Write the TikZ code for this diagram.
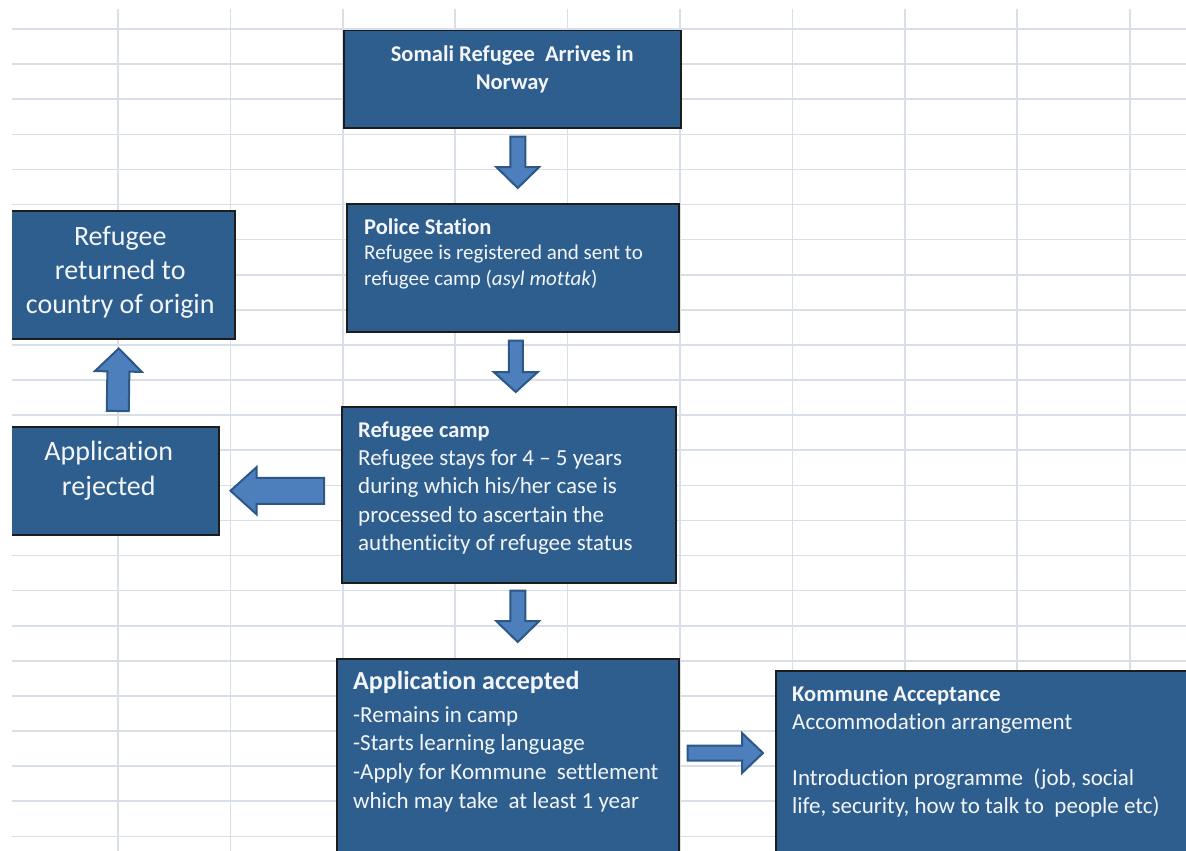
\documentclass[tikz,border=0pt]{standalone}
\usepackage{fontspec}
\setmainfont[Ligatures=NoCommon]{Carlito}
\usetikzlibrary{calc}
\definecolor{boxfill}{HTML}{2D5E8E}
\definecolor{boxborder}{HTML}{1C1C1C}
\definecolor{arrfill}{HTML}{4C7FBB}
\definecolor{arrborder}{HTML}{2C5786}
\definecolor{gridc}{HTML}{D8DFE9}
\definecolor{txtc}{HTML}{F3F5F8}
\newcommand\Lines[1]{\vtop{\halign{##\hfil\cr#1\crcr}}}
\newcommand\CLines[1]{\vtop{\halign{\hfil##\hfil\cr#1\crcr}}}
\newcommand\blockarrow[6]{%
  \coordinate (#1-s) at (#2);
  \coordinate (#1-e) at (#3);
  \coordinate (#1-c) at ($(#1-e)!#6!(#1-s)$);
  \draw[blockarr] ($(#1-s)!#4!90:(#1-e)$) -- ($(#1-c)!#4!-90:(#1-s)$) -- ($(#1-c)!#5!-90:(#1-s)$) -- (#1-e) -- ($(#1-c)!#5!90:(#1-s)$) -- ($(#1-c)!#4!90:(#1-s)$) -- ($(#1-s)!#4!-90:(#1-e)$) -- cycle;
}
\tikzset{
  box/.style={draw=boxborder, line width=1.5pt, fill=boxfill, anchor=north west, inner sep=0pt},
  txt/.style={text=txtc, inner sep=0pt},
  gridline/.style={draw=gridc, line width=1.6pt},
  blockarr/.style={draw=arrborder, fill=arrfill, line width=2pt, line join=miter},
}
\begin{document}
\begin{tikzpicture}[x=1pt,y=-1pt]
\useasboundingbox[fill=white] (0,0) rectangle (1186,851);
\begin{scope}
\clip (12,9) rectangle (1186,851);
% spreadsheet grid
\foreach \gx in {118,230.5,343,455,567.5,680,792.5,905,1017,1130}
  \draw[gridline] (\gx,9) -- (\gx,851);
\foreach \k in {0,...,23}
  \draw[gridline] (12,{29+35.1*\k}) -- (1186,{29+35.1*\k});
% boxes
\node[box, minimum width=337pt, minimum height=97pt] (somali) at (343,30) {};
\node[box, minimum width=332pt, minimum height=128pt] (police) at (346,203) {};
\node[box, minimum width=334pt, minimum height=176pt] (camp) at (341,406) {};
\node[box, minimum width=342pt, minimum height=220pt] (accepted) at (336,658) {};
\node[box, minimum width=430pt, minimum height=210pt] (kommune) at (775,670) {};
\node[box, minimum width=229pt, minimum height=128pt] (returned) at (5,210) {};
\node[box, minimum width=220pt, minimum height=108pt] (rejected) at (-2,426) {};
% texts
\node[txt, anchor=base] (somaliT) at ($(somali.north)+(0,32)$)
  {\fontsize{22.5}{28}\selectfont\bfseries\CLines{Somali Refugee\ \ Arrives in\cr Norway}};
\node[txt, anchor=base west] (policeT) at ($(police.north west)+(18,31)$)
  {\fontsize{21}{25.7}\selectfont\Lines{{\fontsize{22.5}{26}\selectfont\bfseries Police Station}\cr Refugee is registered and sent to\cr refugee camp (\textit{asyl mottak})}};
\node[txt, anchor=base west] (campT) at ($(camp.north west)+(17,31)$)
  {\fontsize{23}{28.4}\selectfont\Lines{{\fontsize{22.5}{28}\selectfont\bfseries Refugee camp}\cr Refugee stays for 4 – 5 years\cr during which his/her case is\cr processed to ascertain the\cr authenticity of refugee status}};
\node[txt, anchor=base west] (acceptedH) at ($(accepted.north west)+(17,31)$)
  {\fontsize{26}{31}\selectfont\bfseries Application accepted};
\node[txt, anchor=base west] (acceptedT) at ($(accepted.north west)+(17,64)$)
  {\fontsize{23}{28.7}\selectfont\Lines{-Remains in camp\cr -Starts learning language\cr -Apply for Kommune\ \ settlement\cr which may take\ \ at least 1 year}};
\node[txt, anchor=base west] (kommuneT) at ($(kommune.north west)+(17,31.5)$)
  {\fontsize{23}{28}\selectfont\Lines{{\fontsize{22.5}{28}\selectfont\bfseries Kommune Acceptance}\cr Accommodation arrangement\cr \cr Introduction programme\ \ (job, social\cr life, security, how to talk to\ \ people etc)}};
\node[txt, anchor=base] (returnedT) at ($(returned.north)+(0,35)$)
  {\fontsize{28}{34}\selectfont\CLines{Refugee\cr returned to\cr country of origin}};
\node[txt, anchor=base] (rejectedT) at ($(rejected.north)+(0,34)$)
  {\fontsize{28}{35}\selectfont\CLines{Application\cr rejected}};
% block arrows
\blockarrow{a1}{$(somali.south)+(5.5,8)$}{$(police.north)+(5,-15)$}{7.5pt}{21.5pt}{21pt}
\blockarrow{a2}{$(police.south)+(3,8)$}{$(camp.north)+(7,-14)$}{7pt}{22pt}{20pt}
\blockarrow{a3}{$(camp.south)+(9,7)$}{$(accepted.north)+(10,-16)$}{7.5pt}{21.5pt}{21pt}
\blockarrow{a4}{$(accepted.north east)+(8,95)$}{$(kommune.north west)+(-12,83)$}{7.5pt}{20pt}{21pt}
\blockarrow{a5}{$(camp.west)+(-17,-4)$}{$(rejected.east)+(11,10)$}{13pt}{23.5pt}{26pt}
\blockarrow{a6}{$(rejected.north)+(9,-15)$}{$(returned.south)+(-1.5,9)$}{11pt}{23.5pt}{23pt}
\end{scope}
\end{tikzpicture}
\end{document}
